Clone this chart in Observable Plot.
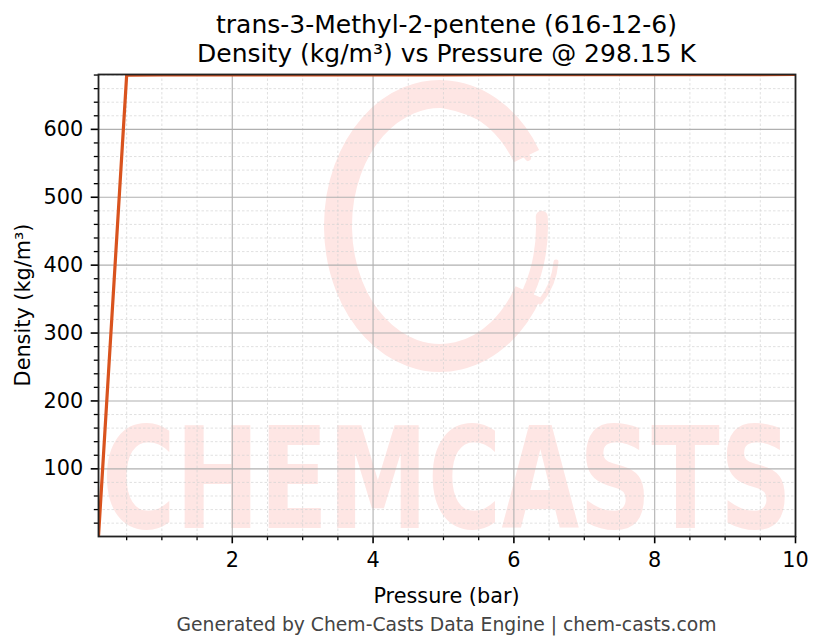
<!DOCTYPE html>
<html>
<head>
<meta charset="utf-8">
<script src="https://cdn.jsdelivr.net/npm/d3@7"></script>
<script src="https://cdn.jsdelivr.net/npm/@observablehq/plot@0.6"></script>
<style>
  html, body { margin: 0; padding: 0; background: #fff; }
  #wrap { position: relative; width: 823px; height: 644px; font-family: "DejaVu Sans", sans-serif; }
  .title { position: absolute; left: 98px; width: 697px; text-align: center; font-size: 25px; color: #000; white-space: nowrap; line-height: 1; }
  #caption { position: absolute; left: 98px; width: 697px; top: 616px; text-align: center; font-size: 18.75px; color: #444; white-space: nowrap; line-height: 1; }
  #chart { position: absolute; left: 0; top: 0; }
</style>
</head>
<body>
<div id="wrap">
  <div id="chart"></div>
  <div class="title" id="t1" style="top:12px">trans-3-Methyl-2-pentene (616-12-6)</div>
  <div class="title" id="t2" style="top:41px">Density (kg/m³) vs Pressure @ 298.15 K</div>
  <div id="caption">Generated by Chem-Casts Data Engine | chem-casts.com</div>
</div>
<script>
// ---- data ----
const pressureBar = [0.1, 0.5, 1, 2, 3, 4, 5, 6, 7, 8, 9, 10];
const densityKgM3 = [0.34, 680.0, 680.05, 680.1, 680.2, 680.25, 680.35, 680.45, 680.5, 680.6, 680.7, 680.8];
const xMajorTicks = [2, 4, 6, 8, 10];
const xMinorTicks = [0.5, 1, 1.5, 2.5, 3, 3.5, 4.5, 5, 5.5, 6.5, 7, 7.5, 8.5, 9, 9.5];
const yMajorTicks = [100, 200, 300, 400, 500, 600];
const yMinorTicks = [20, 40, 60, 80, 120, 140, 160, 180, 220, 240, 260, 280, 320, 340, 360, 380, 420, 440, 460, 480, 520, 540, 560, 580, 620, 640, 660, 680];
const xLabel = "Pressure (bar)";
const yLabel = "Density (kg/m³)";

const rows = pressureBar.map((p, i) => ({p, d: densityKgM3[i]}));

const W = 823, H = 644;
const mL = 98, mR = 28, mT = 74, mB = 108;
const pink = "#fee6e4";

// watermark (decoration, drawn under grid)
function watermark() {
  const g = d3.create("svg:g");
  const cx = 440, cy = 226, rx = 102, ry = 132;
  const r = Math.PI / 180;
  const pt = (a) => [cx + rx * Math.cos(a * r), cy + ry * Math.sin(a * r)];
  const [x0, y0] = pt(-32), [x1, y1] = pt(30), [x2, y2] = pt(-4);
  // main ring of the C
  g.append("path").attr("d", `M${x0},${y0} A${rx},${ry} 0 1 0 ${x1},${y1}`).attr("fill", "none")
    .attr("stroke", pink).attr("stroke-width", 28).attr("stroke-linecap", "butt");
  // tapering lower-right tail
  g.append("path").attr("d", `M${x1},${y1} A${rx},${ry} 0 0 0 ${x2},${y2}`).attr("fill", "none")
    .attr("stroke", pink).attr("stroke-width", 12).attr("stroke-linecap", "round");
  // thin inner swoosh near the top
  g.append("path").attr("d", `M 398 104 Q 480 96 528 158`).attr("fill", "none")
    .attr("stroke", pink).attr("stroke-width", 6).attr("stroke-linecap", "round");
  // small sliver at the lower right
  g.append("path").attr("d", `M 556 262 Q 554 285 540 302`).attr("fill", "none")
    .attr("stroke", pink).attr("stroke-width", 5).attr("stroke-linecap", "round");
  g.append("text").attr("x", 447).attr("y", 528)
    .attr("text-anchor", "middle")
    .attr("font-family", "DejaVu Sans")
    .attr("font-weight", "bold")
    .attr("font-size", 140)
    .attr("textLength", 690)
    .attr("lengthAdjust", "spacingAndGlyphs")
    .attr("fill", pink)
    .text("CHEMCASTS");
  return g.node();
}

const plot = Plot.plot({
  width: W,
  height: H,
  marginLeft: mL,
  marginRight: mR,
  marginTop: mT,
  marginBottom: mB,
  style: { fontFamily: "DejaVu Sans, sans-serif", fontSize: "20.8px", color: "#000", background: "transparent" },
  x: { type: "linear", domain: [0.1, 10] },
  y: { type: "linear", domain: [0.34, 680.8] },
  marks: [
    watermark,
    Plot.gridX(xMinorTicks, { stroke: "#d4d4d4", strokeOpacity: 1, strokeWidth: 0.7, strokeDasharray: "2.5,2" }),
    Plot.gridY(yMinorTicks, { stroke: "#d4d4d4", strokeOpacity: 1, strokeWidth: 0.7, strokeDasharray: "2.5,2" }),
    Plot.gridX(xMajorTicks, { stroke: "#b0b0b0", strokeOpacity: 1, strokeWidth: 1.1 }),
    Plot.gridY(yMajorTicks, { stroke: "#b0b0b0", strokeOpacity: 1, strokeWidth: 1.1 }),
    Plot.line(rows, { x: "p", y: "d", stroke: "#d9531e", strokeWidth: 3.2, strokeLinejoin: "miter", clip: true }),
    Plot.axisX(xMinorTicks, { tickSize: 4.2, text: null, label: null, strokeWidth: 1.3 }),
    Plot.axisY(yMinorTicks, { tickSize: 4.2, text: null, label: null, strokeWidth: 1.3 }),
    Plot.axisX(xMajorTicks, { tickSize: 7.3, tickPadding: 8, label: null, strokeWidth: 1.6, fontSize: 20.8 }),
    Plot.axisY(yMajorTicks, { tickSize: 7.3, tickPadding: 8, label: null, strokeWidth: 1.6, fontSize: 20.8 }),
    Plot.frame({ stroke: "#222", strokeWidth: 1.8 })
  ]
});

const svg = d3.select(plot);
svg.append("text")
  .attr("x", (mL + W - mR) / 2).attr("y", 603)
  .attr("text-anchor", "middle")
  .attr("font-family", "DejaVu Sans").attr("font-size", 20.8)
  .attr("fill", "#000").text(xLabel);
svg.append("text")
  .attr("transform", `translate(30,${(mT + H - mB) / 2}) rotate(-90)`)
  .attr("text-anchor", "middle")
  .attr("font-family", "DejaVu Sans").attr("font-size", 20.8)
  .attr("fill", "#000").text(yLabel);

document.getElementById("chart").appendChild(plot);
</script>
</body>
</html>
